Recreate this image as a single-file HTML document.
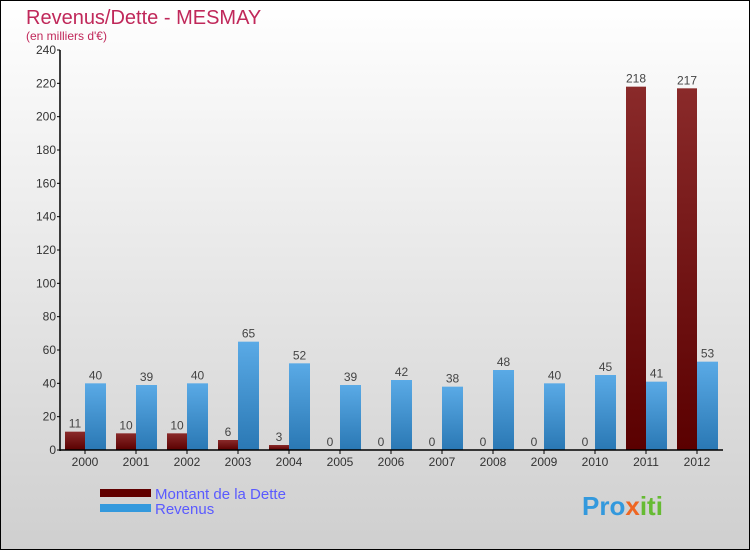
<!DOCTYPE html>
<html><head><meta charset="utf-8"><style>
body{margin:0}
#c{width:748px;height:548px;border:1px solid #000;background:linear-gradient(#fff,#cfcfcf);position:relative;font-family:"Liberation Sans",sans-serif;overflow:hidden}
</style></head><body>
<div id="c">
<svg width="748" height="548" viewBox="1 1 748 548" style="position:absolute;left:0;top:0">
<defs>
<linearGradient id="gd" x1="0" y1="0" x2="0" y2="1"><stop offset="0" stop-color="#8a2a2a"/><stop offset="1" stop-color="#5a0000"/></linearGradient>
<linearGradient id="gr" x1="0" y1="0" x2="0" y2="1"><stop offset="0" stop-color="#5aaae6"/><stop offset="1" stop-color="#2a78b4"/></linearGradient>
</defs>
<text x="26" y="24" font-size="20" fill="#c0285a">Revenus/Dette - MESMAY</text>
<text x="26" y="40" font-size="12" fill="#c0285a">(en milliers d'€)</text>
<g id="plot"></g>
<rect x="100" y="489" width="51" height="8" fill="#600000"/>
<text x="155" y="499" font-size="15" fill="#5a5aff">Montant de la Dette</text>
<rect x="100" y="504" width="51" height="8" fill="#3399dd"/>
<text x="155" y="514" font-size="15" fill="#5a5aff">Revenus</text>
<text x="582" y="515" font-size="26" font-weight="bold" fill="#3399dd">Pro<tspan fill="#ee6622">x</tspan><tspan fill="#66bb33">iti</tspan></text>
</svg>
</div>
<script>
const years=["2000","2001","2002","2003","2004","2005","2006","2007","2008","2009","2010","2011","2012"];
const dette=[11,10,10,6,3,0,0,0,0,0,0,218,217];
const revenus=[40,39,40,65,52,39,42,38,48,40,45,41,53];
const ticks=[0,20,40,60,80,100,120,140,160,180,200,220,240];
const NS="http://www.w3.org/2000/svg";
const g=document.getElementById('plot');
const x0=60,x1=723,yb=450,yt=50,ymax=240;
const step=(x1-x0)/years.length;
const y=v=>yb-(v/ymax)*(yb-yt);
function mk(t,a,txt){const e=document.createElementNS(NS,t);for(const k in a)e.setAttribute(k,a[k]);if(txt!==undefined)e.textContent=txt;g.appendChild(e);return e;}
ticks.forEach(t=>{
const l=mk('line',{x1:x0-3,x2:x0,y1:y(t),y2:y(t),stroke:'#000'});


const tx=mk('text',{x:x0-4,y:y(t)+4,'font-size':12,fill:'#333','text-anchor':'end'},t);


});
years.forEach((yr,i)=>{
const gx=x0+i*step+5;
const d=mk('rect',{x:gx,y:y(dette[i]),width:20,height:yb-y(dette[i]),fill:'url(#gd)'});


const r=mk('rect',{x:gx+20,y:y(revenus[i]),width:21,height:yb-y(revenus[i]),fill:'url(#gr)'});


const dl=mk('text',{x:gx+10,y:y(dette[i])-4,'font-size':12,fill:'#444','text-anchor':'middle'},dette[i]);


const rl=mk('text',{x:gx+30.5,y:y(revenus[i])-4,'font-size':12,fill:'#444','text-anchor':'middle'},revenus[i]);


const xt=mk('line',{x1:gx+20,x2:gx+20,y1:yb,y2:yb+4,stroke:'#000'});


const xl=mk('text',{x:gx+20,y:yb+16,'font-size':12,fill:'#333','text-anchor':'middle'},yr);


});
const ya=mk('line',{x1:x0,x2:x0,y1:yt,y2:yb+1,stroke:'#000','stroke-width':1.5});


const xa=mk('line',{x1:x0,x2:x1,y1:yb,y2:yb,stroke:'#000','stroke-width':1.5});


</script>
</body></html>
